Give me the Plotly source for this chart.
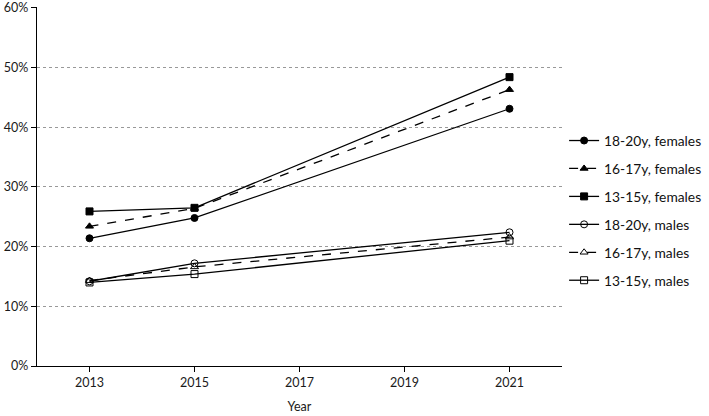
import plotly.graph_objects as go

years = [2013, 2015, 2021]
f_18_20 = [21.4, 24.8, 43.1]
f_16_17 = [23.4, 26.4, 46.3]
f_13_15 = [25.9, 26.5, 48.4]
m_18_20 = [14.2, 17.2, 22.4]
m_16_17 = [14.3, 16.6, 21.6]
m_13_15 = [14.0, 15.4, 21.0]

names = ["18-20y, females", "16-17y, females", "13-15y, females",
         "18-20y, males", "16-17y, males", "13-15y, males"]
series = [f_18_20, f_16_17, f_13_15, m_18_20, m_16_17, m_13_15]
symbols = ["circle", "triangle-up", "square", "circle-open", "triangle-up-open", "square-open"]
dashes = ["solid", "dash", "solid", "solid", "dash", "solid"]
ytick_vals = [0, 0.1, 0.2, 0.3, 0.4, 0.5, 0.6]
ytick_text = ["0%", "10%", "20%", "30%", "40%", "50%", "60%"]
xtick_vals = [2013, 2015, 2017, 2019, 2021]

fig = go.Figure()
for i, (n, s) in enumerate(zip(names, series)):
    fig.add_trace(go.Scatter(
        x=years, y=[v / 100 for v in s], name=n, mode="lines+markers",
        line=dict(color="black", width=1.3, dash=dashes[i]),
        marker=dict(symbol=symbols[i], size=7, color="black",
                    line=dict(color="black", width=1)),
        legendgroup=f"g{i}",
    ))

fig.update_layout(
    width=709, height=416,
    margin=dict(l=37, r=147, t=7, b=50, autoexpand=False),
    paper_bgcolor="white", plot_bgcolor="white",
    font=dict(family="Lato, Open Sans, sans-serif", size=12.5, color="#1a1a1a"),
    legend=dict(x=1.004, xanchor="left", y=0.433, yanchor="middle",
                font=dict(size=13.8, color="#111"), tracegroupgap=7,
                itemwidth=30, bgcolor="rgba(0,0,0,0)"),
    showlegend=True,
)
fig.update_xaxes(
    range=[2012, 2022], tickvals=xtick_vals,
    showline=True, linecolor="black", linewidth=1.2,
    ticks="outside", ticklen=5, tickcolor="black",
    showgrid=False, zeroline=False, automargin=False,
    title=dict(text="Year", font=dict(size=12.5), standoff=13),
    tickfont=dict(size=12.5),
)
fig.update_yaxes(
    range=[0, 0.6015], tickvals=ytick_vals, ticktext=ytick_text,
    showline=True, linecolor="black", linewidth=1.2,
    ticks="outside", ticklen=5, tickcolor="black",
    showgrid=True, gridcolor="#999", griddash="dot", gridwidth=1,
    zeroline=False, automargin=False, tickfont=dict(size=12.5),
)

fig.write_html(
    "out.html",
    config={"displayModeBar": False},
    post_script="document.body.style.margin='0px';document.body.style.overflow='hidden';",
)
